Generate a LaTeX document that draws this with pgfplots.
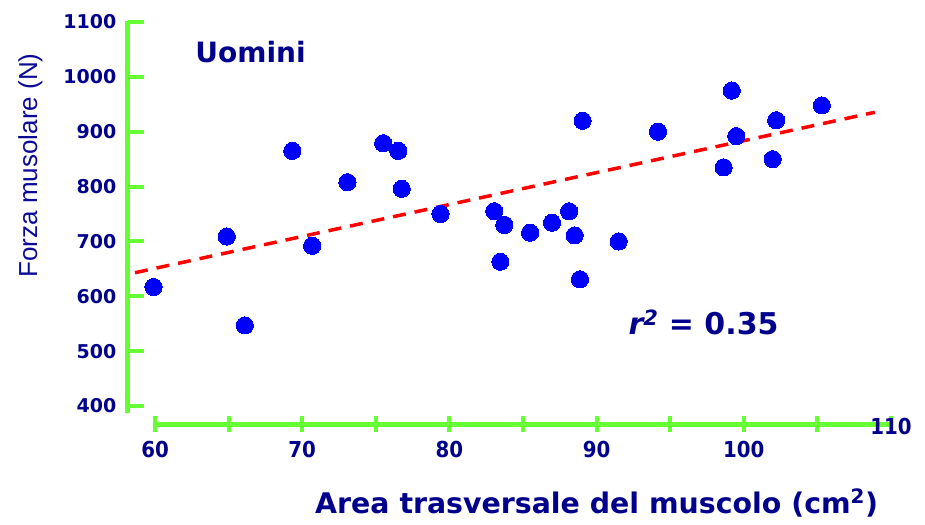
\documentclass[border=0pt]{standalone}
\usepackage{fontspec}
\setmainfont{DejaVu Sans}
\newfontfamily\condfont{DejaVu Sans Condensed}
\newfontfamily\arialfont{Liberation Sans}
\usepackage{pgfplots}
\pgfplotsset{compat=1.18}
\definecolor{navytext}{RGB}{0,0,140}
\definecolor{ylabcol}{RGB}{10,10,150}
\definecolor{axisgreen}{RGB}{102,255,51}
\definecolor{dotblue}{RGB}{0,0,255}
\definecolor{fitred}{RGB}{255,0,0}

\begin{document}
\begin{tikzpicture}
\begin{axis}[
  scale only axis,
  width=763.2pt, height=402pt,
  xmin=58.15, xmax=110, ymin=367.2, ymax=1100,
  axis lines=left,
  axis line style={-, draw=none},
  xtick={60,65,...,110},
  xticklabels={60,,70,,80,,90,,100,,},
  ytick={400,500,...,1100},
  major tick length=16pt,
  xtick align=center, ytick align=inside,
  tick style={draw=axisgreen, line width=4pt},
  yticklabel style={font=\fontsize{19}{20}\selectfont\bfseries, text=navytext, xshift=-8pt},
  xticklabel style={font=\condfont\fontsize{22}{23}\selectfont\bfseries, text=navytext, yshift=-6pt},
  /pgf/number format/assume math mode=true,
  /pgf/number format/1000 sep={},
  clip=false,
]
% separated green axis lines
\draw[axisgreen, line width=5pt] (axis cs:60,367.2) -- (axis cs:110,367.2);
\draw[axisgreen, line width=5pt] (axis cs:58.15,387) -- (axis cs:58.15,1102);

% least-squares fit
\addplot[fitred, line width=3.5pt, dash pattern=on 13pt off 9pt]
  coordinates {(58.64,643) (108.9,935.4)};

% measurements
\addplot[only marks, mark=*, mark size=8.6pt,
  mark options={draw=dotblue, fill=dotblue, line width=0pt}] coordinates {
  (59.9,617) (64.87,709) (66.1,547) (69.33,865) (70.67,692)
  (73.07,808) (75.5,879) (76.53,865) (76.76,796) (79.4,750)
  (83.05,755) (83.73,730) (83.46,663) (85.48,716) (86.97,734)
  (88.13,755) (88.51,711) (88.87,631) (89.05,920) (91.5,700)
  (94.17,900) (99.18,975) (99.49,892) (98.63,835) (102.2,921)
  (101.96,850) (105.3,948)
};

\node[font=\fontsize{28}{30}\selectfont\bfseries, text=navytext]
  at (axis cs:66.49,1045.3) {Uomini};
\node[anchor=base west, font=\fontsize{30}{32}\selectfont\bfseries, text=navytext]
  at (axis cs:91.93,529.5) {\textit{r\textsuperscript{2}} = 0.35};
\node[font=\condfont\fontsize{22}{23}\selectfont\bfseries, text=navytext, yshift=-2pt]
  at (axis cs:110,367.2) {110};
\node[anchor=base, font=\fontsize{28.4}{30}\selectfont\bfseries, text=navytext, yshift=-89pt]
  at (axis cs:90,367.2) {Area trasversale del muscolo (cm\textsuperscript{2})};
\node[rotate=90, font=\arialfont\fontsize{26}{28}\selectfont, text=ylabcol]
  at (axis cs:51.54,838.6) {Forza musolare (N)};
\coordinate (O) at (axis cs:58.15,367.2);
\end{axis}
\pgfresetboundingbox
\path[use as bounding box] (O) ++(-127.8pt,-100pt) rectangle ++(925pt,524pt);
\end{tikzpicture}
\end{document}
